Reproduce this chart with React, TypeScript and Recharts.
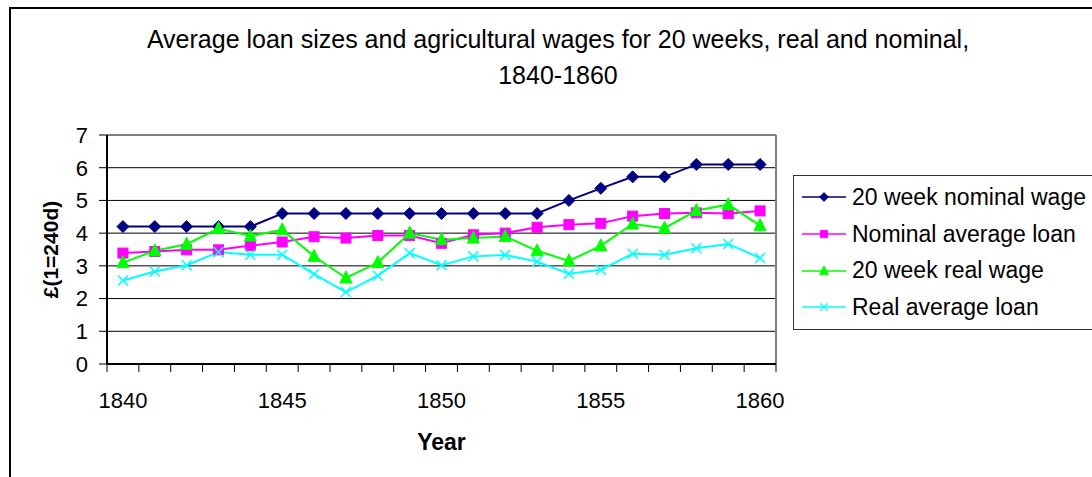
import { CartesianGrid, Line, LineChart, ReferenceLine, XAxis, YAxis } from 'recharts'

const years = [
  1840, 1841, 1842, 1843, 1844, 1845, 1846, 1847, 1848, 1849, 1850,
  1851, 1852, 1853, 1854, 1855, 1856, 1857, 1858, 1859, 1860,
]
const nominalWage = [
  4.2, 4.2, 4.2, 4.2, 4.2, 4.6, 4.6, 4.6, 4.6, 4.6, 4.6,
  4.6, 4.6, 4.6, 5.0, 5.37, 5.72, 5.72, 6.1, 6.1, 6.1,
]
const nominalLoan = [
  3.39, 3.44, 3.49, 3.49, 3.62, 3.73, 3.89, 3.85, 3.93, 3.93, 3.69,
  3.95, 4.0, 4.18, 4.26, 4.3, 4.52, 4.6, 4.62, 4.6, 4.68,
]
const realWage = [
  3.1, 3.46, 3.66, 4.14, 3.91, 4.1, 3.29, 2.63, 3.1, 4.0, 3.8,
  3.85, 3.9, 3.46, 3.15, 3.61, 4.28, 4.15, 4.69, 4.87, 4.23,
]
const realLoan = [
  2.55, 2.83, 3.02, 3.42, 3.34, 3.34, 2.75, 2.2, 2.7, 3.39, 3.02,
  3.29, 3.33, 3.13, 2.76, 2.88, 3.37, 3.34, 3.54, 3.67, 3.24,
]
const labelYears = [1840, 1845, 1850, 1855, 1860]
const yTicks = [0, 1, 2, 3, 4, 5, 6, 7]

const data = years.map((year, i) => ({
  year,
  nominalWage: nominalWage[i],
  nominalLoan: nominalLoan[i],
  realWage: realWage[i],
  realLoan: realLoan[i],
}))

// tick marks sit between the years, labels every five years
const boundaries = [...years.map((y) => y - 0.5), years[years.length - 1] + 0.5]
const xTicks = [...boundaries, ...labelYears].sort((a, b) => a - b)

const FONT = '"Liberation Sans", Arial, sans-serif'
const TICK_SIZE = 8
const TICK_MARGIN = 20

const series = [
  { key: 'nominalWage', name: '20 week nominal wage', color: '#000080', shape: 'diamond' },
  { key: 'nominalLoan', name: 'Nominal average loan', color: '#FF00FF', shape: 'square' },
  { key: 'realWage', name: '20 week real wage', color: '#00FF00', shape: 'triangle' },
  { key: 'realLoan', name: 'Real average loan', color: '#00FFFF', shape: 'cross' },
]

function Marker({ cx, cy, shape, color }: { cx: number; cy: number; shape: string; color: string }) {
  if (cx == null || cy == null) return null
  if (shape === 'diamond') {
    return <polygon points={`${cx},${cy - 6} ${cx + 6},${cy} ${cx},${cy + 6} ${cx - 6},${cy}`} fill={color} stroke={color} />
  }
  if (shape === 'square') {
    return <rect x={cx - 5} y={cy - 5} width={10} height={10} fill={color} stroke={color} />
  }
  if (shape === 'triangle') {
    return <polygon points={`${cx},${cy - 7} ${cx + 6},${cy + 5} ${cx - 6},${cy + 5}`} fill={color} stroke={color} />
  }
  return (
    <g stroke={color} strokeWidth={1.5}>
      <line x1={cx - 5} y1={cy - 5} x2={cx + 5} y2={cy + 5} />
      <line x1={cx - 5} y1={cy + 5} x2={cx + 5} y2={cy - 5} />
    </g>
  )
}

function YearTick(props: any) {
  const { x, y, payload } = props
  const v = payload.value
  if (v % 1 !== 0) {
    const top = y - TICK_SIZE - TICK_MARGIN
    return <line x1={x} x2={x} y1={top} y2={top + TICK_SIZE} stroke="#000" />
  }
  return (
    <text x={x} y={y} dy="0.71em" textAnchor="middle" fontSize={22} fontFamily={FONT} fill="#000">
      {v}
    </text>
  )
}

function LegendBox() {
  return (
    <div
      style={{
        position: 'absolute',
        left: 793,
        top: 175,
        border: '1px solid #333',
        background: '#fff',
        width: 320,
        padding: '3px 0',
        fontFamily: FONT,
      }}
    >
      {series.map((s) => (
        <div key={s.key} style={{ display: 'flex', alignItems: 'center', height: 36.7 }}>
          <svg width={58} height={20} style={{ flex: 'none' }}>
            <line x1={8} x2={52} y1={10} y2={10} stroke={s.color} strokeWidth={1.5} />
            <g transform="translate(30 10) scale(0.75) translate(-30 -10)">
              <Marker cx={30} cy={10} shape={s.shape} color={s.color} />
            </g>
          </svg>
          <span style={{ fontSize: 23, color: '#000', whiteSpace: 'nowrap' }}>{s.name}</span>
        </div>
      ))}
    </div>
  )
}

export default function App() {
  return (
    <div style={{ position: 'fixed', left: 0, top: 0, width: 1092, height: 477, overflow: 'hidden', background: '#fff' }}>
      <div
        style={{
          position: 'absolute',
          left: 9,
          top: 7,
          width: 1200,
          height: 600,
          border: '2px solid #000',
        }}
      />
      <div
        style={{
          position: 'absolute',
          left: 0,
          width: 1116,
          top: 21,
          textAlign: 'center',
          fontFamily: FONT,
          fontSize: 25,
          lineHeight: '36px',
          color: '#000',
        }}
      >
        Average loan sizes and agricultural wages for 20 weeks, real and nominal,
        <br />
        1840-1860
      </div>
      <div style={{ position: 'absolute', left: 0, top: 0 }}>
        <LineChart width={1092} height={477} data={data} margin={{ top: 135, right: 316, bottom: 0, left: 30 }}>
          <CartesianGrid vertical={false} stroke="#000" strokeWidth={1} />
          <XAxis
            dataKey="year"
            type="number"
            domain={[1839.5, 1860.5]}
            ticks={xTicks}
            interval={0}
            tickLine={false}
            tickSize={TICK_SIZE}
            tickMargin={TICK_MARGIN}
            tick={<YearTick />}
            axisLine={{ stroke: '#000', strokeWidth: 2 }}
            height={113}
            label={{
              value: 'Year',
              position: 'insideTop',
              offset: 70,
              fontSize: 23,
              fontWeight: 'bold',
              fontFamily: FONT,
              fill: '#000',
            }}
          />
          <YAxis
            domain={[0, 7]}
            ticks={yTicks}
            interval={0}
            width={77}
            tickSize={TICK_SIZE}
            tickMargin={11}
            tick={{ fontSize: 22, fontFamily: FONT, fill: '#000' }}
            tickLine={{ stroke: '#000' }}
            axisLine={{ stroke: '#000', strokeWidth: 2 }}
            label={{
              value: '£(1=240d)',
              angle: -90,
              position: 'insideLeft',
              offset: 21,
              style: { textAnchor: 'middle' },
              fontSize: 21,
              fontWeight: 'bold',
              fontFamily: FONT,
              fill: '#000',
            }}
          />
          <ReferenceLine x={1860.5} stroke="#808080" strokeWidth={2} />
          {series.map((s) => (
            <Line
              key={s.key}
              type="linear"
              dataKey={s.key}
              name={s.name}
              stroke={s.color}
              strokeWidth={2}
              isAnimationActive={false}
              dot={(p: any) => <Marker key={`${s.key}-${p.index}`} cx={p.cx} cy={p.cy} shape={s.shape} color={s.color} />}
              activeDot={false}
            />
          ))}
        </LineChart>
      </div>
      <LegendBox />
    </div>
  )
}
